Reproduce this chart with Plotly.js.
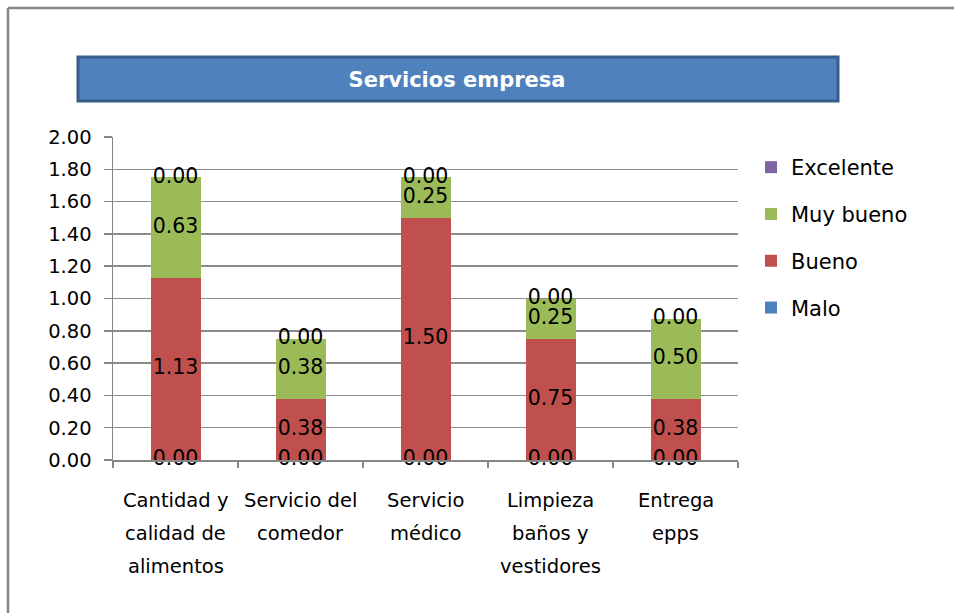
<!DOCTYPE html>
<html>
<head>
<meta charset="utf-8">
<script src="https://cdn.plot.ly/plotly-3.0.1.min.js"></script>
<style>html,body{margin:0;padding:0;background:#fff;}#chart{width:954px;height:613px;}</style>
</head>
<body>
<div id="chart"></div>
<script>
// ---- data ----
var categories = ["Cantidad y calidad de alimentos", "Servicio del comedor", "Servicio médico", "Limpieza baños y vestidores", "Entrega epps"];
var tickLabels = ["Cantidad y<br>calidad de<br>alimentos", "Servicio del<br>comedor", "Servicio<br>médico", "Limpieza<br>baños y<br>vestidores", "Entrega<br>epps"];
var malo      = [0, 0, 0, 0, 0];
var bueno     = [1.125, 0.375, 1.5, 0.75, 0.375];
var muyBueno  = [0.625, 0.375, 0.25, 0.25, 0.5];
var excelente = [0, 0, 0, 0, 0];
var seriesNames = ["Malo", "Bueno", "Muy bueno", "Excelente"];
var yTicks = [0, 0.2, 0.4, 0.6, 0.8, 1.0, 1.2, 1.4, 1.6, 1.8, 2.0];

// ---- layout geometry ----
var W = 954, H = 613;
var M = {l: 113, r: 216, t: 137, b: 153};
var pw = W - M.l - M.r, ph = H - M.t - M.b;
function px(x) { return (x - M.l) / pw; }
function py(y) { return (H - M.b - y) / ph; }

var FONT = "'DejaVu Sans', sans-serif";
var colors = ["#4F81BD", "#C0504D", "#9BBB59", "#8064A2"];
var series = [malo, bueno, muyBueno, excelente];

var traces = [];
series.forEach(function (vals, i) {
  traces.push({
    type: "bar", x: categories, y: vals, name: seriesNames[i],
    marker: {color: colors[i], line: {width: 0}},
    legendgroup: "g" + i, legendrank: 100 - i, hoverinfo: "skip"
  });
});
// data labels: centered on each stacked segment
var base = categories.map(function () { return 0; });
series.forEach(function (vals, i) {
  var ys = vals.map(function (v, j) { return base[j] + v / 2; });
  traces.push({
    type: "scatter", mode: "text", x: categories, y: ys,
    text: vals.map(function (v) { return v.toFixed(2); }),
    textposition: "middle center",
    textfont: {family: FONT, size: 20.5, color: "#000"},
    showlegend: false, hoverinfo: "skip", cliponaxis: false
  });
  base = base.map(function (b, j) { return b + vals[j]; });
});

// category labels, one annotation per line (Excel-like line spacing)
var annotations = [];
categories.forEach(function (c, i) {
  tickLabels[i].split("<br>").forEach(function (line, k) {
    annotations.push({
      xref: "x", yref: "paper", x: c, y: 0, yanchor: "middle", xanchor: "center",
      yshift: -(40 + 33 * k), text: line, showarrow: false,
      font: {family: FONT, size: 19.5, color: "#000"}
    });
  });
});

var layout = {
  width: W, height: H,
  margin: M,
  paper_bgcolor: "#fff", plot_bgcolor: "#fff",
  barmode: "stack", bargap: 0.6,
  font: {family: FONT, size: 19.5, color: "#000"},
  title: {
    text: "<b>Servicios empresa</b>",
    font: {family: FONT, size: 21, color: "#fff"},
    x: 457 / W, xref: "container", xanchor: "center",
    y: 1 - 80 / H, yref: "container", yanchor: "middle"
  },
  xaxis: {
    type: "category", tickmode: "array", tickvals: categories, showticklabels: false,
    showline: true, linecolor: "#868686", linewidth: 1.5,
    ticks: "outside", tickson: "boundaries", ticklen: 6, tickcolor: "#868686", tickwidth: 1.5,
    showgrid: false, zeroline: false
  },
  yaxis: {
    range: [0, 2], tickmode: "array", tickvals: yTicks,
    ticktext: yTicks.map(function (v) { return v.toFixed(2); }),
    showline: true, linecolor: "#868686", linewidth: 1.5,
    ticks: "outside", ticklen: 8, tickcolor: "#868686", tickwidth: 1.5,
    showgrid: true, gridcolor: "#8c8c8c", gridwidth: 1.5, zeroline: false,
    tickfont: {family: FONT, size: 19.5, color: "#000"},
    ticklabelstandoff: 8
  },
  legend: {
    x: px(751), xanchor: "left", y: py(147), yanchor: "top",
    traceorder: "grouped", tracegroupgap: 16.5,
    font: {family: FONT, size: 21, color: "#000"},
    bgcolor: "rgba(0,0,0,0)"
  },
  showlegend: true,
  annotations: annotations,
  shapes: [
    {type: "line", xref: "paper", yref: "paper", x0: px(8), x1: px(W + 10), y0: py(8), y1: py(8), line: {color: "#868686", width: 2.5}, layer: "below"},
    {type: "line", xref: "paper", yref: "paper", x0: px(8), x1: px(8), y0: py(8), y1: py(H + 10), line: {color: "#868686", width: 2.5}, layer: "below"},
    {type: "rect", xref: "paper", yref: "paper", x0: px(78), x1: px(838), y0: py(101), y1: py(57), fillcolor: "#4F81BD", line: {color: "#385D8A", width: 3}, layer: "below"}
  ]
};

Plotly.newPlot("chart", traces, layout, {displayModeBar: false, staticPlot: true});
</script>
</body>
</html>
